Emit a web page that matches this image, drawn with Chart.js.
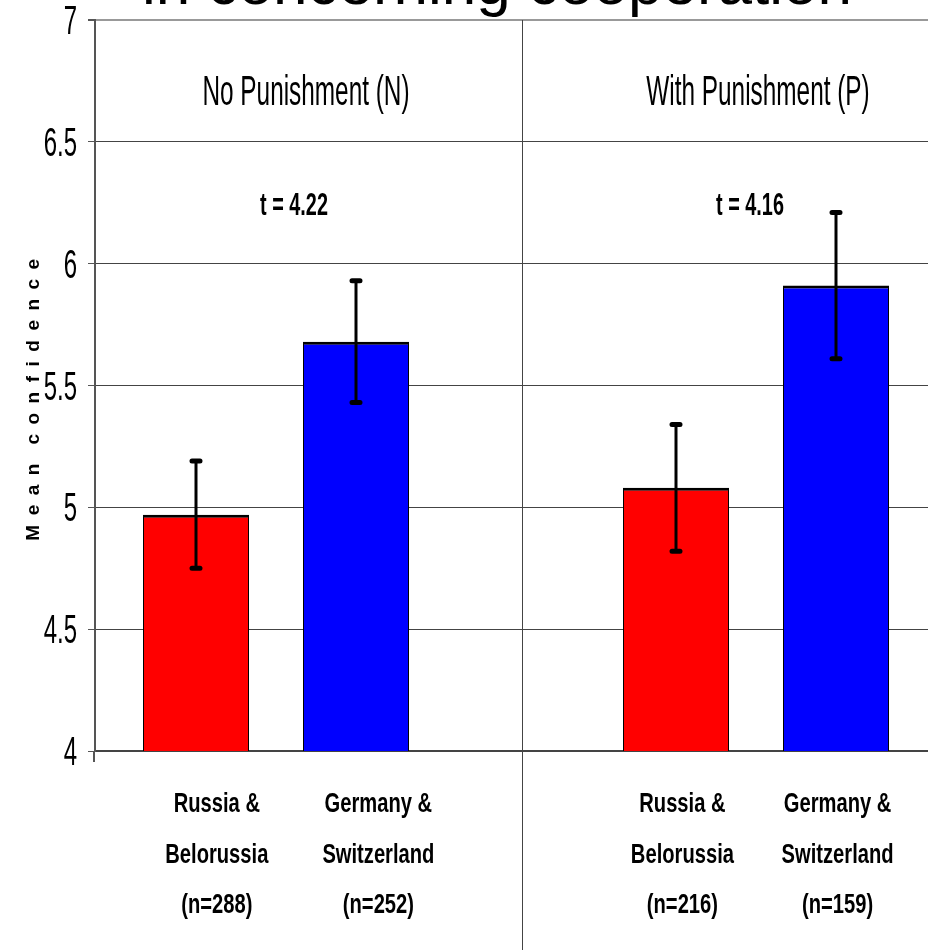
<!DOCTYPE html>
<html>
<head>
<meta charset="utf-8">
<script src="https://cdn.jsdelivr.net/npm/chart.js@4.4.1/dist/chart.umd.min.js"></script>
<style>
  body { margin: 0; background: #fff; overflow: hidden; }
  canvas { display: block; }
</style>
</head>
<body>
<canvas id="chart" width="928" height="950"></canvas>
<script>
// chart values
const groupLabels = [
    ['Russia &', 'Belorussia', '(n=288)'],
    ['Germany &', 'Switzerland', '(n=252)'],
    ['Russia &', 'Belorussia', '(n=216)'],
    ['Germany &', 'Switzerland', '(n=159)']
];
const groupSlots = [1, 2, 4, 5];          // slot 3 is the empty gap between the panels
const meanConfidence = [4.97, 5.68, 5.08, 5.91];
const errorLow = [4.75, 5.43, 4.82, 5.61];
const errorHigh = [5.19, 5.93, 5.34, 6.21];
const panelNames = ['No Punishment (N)', 'With Punishment (P)'];
const tStats = ['t = 4.22', 't = 4.16'];
const yTicks = [4, 4.5, 5, 5.5, 6, 6.5, 7];

const SANS = "'Liberation Sans', Arial, sans-serif";
const barColors = ['#ff0000', '#0000ff', '#ff0000', '#0000ff'];

// narrow text like the original (Arial Narrow look)
function narrowText(ctx, text, x, y, sx) {
    ctx.save();
    ctx.translate(x, y);
    ctx.scale(sx, 1);
    ctx.fillText(text, 0, 0);
    ctx.restore();
}

const extras = {
    id: 'extras',
    afterDatasetsDraw(chart) {
        const ctx = chart.ctx;
        const xs = chart.scales.x;
        const ys = chart.scales.y;
        const area = chart.chartArea;
        ctx.save();
        ctx.fillStyle = '#000';

        // title, mostly above the page edge
        ctx.font = '62px ' + SANS;
        ctx.textAlign = 'left';
        ctx.textBaseline = 'alphabetic';
        ctx.fillText('in concerning cooperation', 142, 4);

        // divider between the two panels, and the little stub under the y axis
        const dx = Math.round(xs.getPixelForValue(3.04)) + 0.5;
        ctx.strokeStyle = '#444';
        ctx.lineWidth = 1;
        ctx.beginPath();
        ctx.moveTo(dx, area.top);
        ctx.lineTo(dx, chart.height);
        ctx.stroke();
        ctx.strokeStyle = '#555';
        ctx.lineWidth = 2;
        ctx.beginPath();
        ctx.moveTo(area.left - 1, area.bottom);
        ctx.lineTo(area.left - 1, area.bottom + 11);
        ctx.stroke();

        // y tick labels
        ctx.font = '40px ' + SANS;
        ctx.textAlign = 'right';
        ys.ticks.forEach(function (t) {
            narrowText(ctx, String(t.value), 77, ys.getPixelForValue(t.value) + 14, 0.6);
        });

        // x tick labels, three lines each (text boxes sit a bit right of the bars)
        ctx.font = 'bold 28px ' + SANS;
        ctx.textAlign = 'center';
        const lineOffsets = [61, 112, 162];
        const labelShift = [0.13, 0.14, 0.04, 0.01];
        groupSlots.forEach(function (slot, i) {
            const x = xs.getPixelForValue(slot + labelShift[i]);
            groupLabels[i].forEach(function (line, j) {
                narrowText(ctx, line, x, area.bottom + lineOffsets[j], 0.72);
            });
        });

        // panel names
        ctx.font = '42px ' + SANS;
        const nameX = [1.6875, 4.5125];
        panelNames.forEach(function (name, i) {
            narrowText(ctx, name, xs.getPixelForValue(nameX[i]), ys.getPixelForValue(6.651), 0.58);
        });

        // t statistics
        ctx.font = 'bold 31px ' + SANS;
        const tX = [1.6125, 4.4625];
        tStats.forEach(function (t, i) {
            narrowText(ctx, t, xs.getPixelForValue(tX[i]), ys.getPixelForValue(6.2), 0.64);
        });

        // error bars
        ctx.strokeStyle = '#000';
        groupSlots.forEach(function (slot, i) {
            const x = xs.getPixelForValue(slot);
            const yHi = ys.getPixelForValue(errorHigh[i]);
            const yLo = ys.getPixelForValue(errorLow[i]);
            ctx.lineWidth = 3;
            ctx.lineCap = 'butt';
            ctx.beginPath();
            ctx.moveTo(x, yHi);
            ctx.lineTo(x, yLo);
            ctx.stroke();
            ctx.lineWidth = 5;
            ctx.lineCap = 'round';
            ctx.beginPath();
            ctx.moveTo(x - 4, yHi);
            ctx.lineTo(x + 4, yHi);
            ctx.moveTo(x - 4, yLo);
            ctx.lineTo(x + 4, yLo);
            ctx.stroke();
        });
        ctx.restore();
    }
};

const ctx = document.getElementById('chart');
new Chart(ctx, {
    type: 'bar',
    data: {
        datasets: [{
            data: groupSlots.map(function (slot, i) {
                return { x: slot, y: meanConfidence[i] };
            }),
            backgroundColor: barColors,
            borderColor: '#000',
            borderWidth: { top: 3, left: 1, right: 1, bottom: 0 },
            borderSkipped: false,
            barPercentage: 0.6625,
            categoryPercentage: 1
        }]
    },
    options: {
        responsive: false,
        animation: false,
        layout: { padding: { top: 20, right: 0, bottom: 0, left: 0 } },
        plugins: {
            legend: { display: false },
            tooltip: { enabled: false },
            title: { display: false }
        },
        scales: {
            x: {
                type: 'linear',
                offset: false,
                min: 0.36875,
                max: 5.575,
                afterBuildTicks: function (scale) {
                    scale.ticks = groupSlots.map(function (v) { return { value: v }; });
                },
                afterFit: function (scale) { scale.height = 199; },
                ticks: { display: false },
                grid: { display: false, drawTicks: false },
                border: { display: true, color: '#444', width: 2 }
            },
            y: {
                min: 4,
                max: 7,
                afterBuildTicks: function (scale) {
                    scale.ticks = yTicks.map(function (v) { return { value: v }; });
                },
                afterFit: function (scale) { scale.width = 95; },
                ticks: { display: false },
                grid: {
                    color: function (c) { return c.tick && c.tick.value === 7 ? '#999' : '#444'; },
                    lineWidth: function (c) { return c.tick && c.tick.value === 7 ? 2 : 1; },
                    tickColor: '#555',
                    tickLength: 7
                },
                border: { display: true, color: '#555', width: 2 },
                title: {
                    display: true,
                    // trailing spaces push the spaced-out word down toward the axis middle
                    text: 'M\u2002e\u2002a\u2002n\u2002\u2002c\u2002o\u2002n\u2002f\u2002i\u2002d\u2002e\u2002n\u2002c\u2002e\u2002\u2002\u2002',
                    color: '#000',
                    font: { family: SANS, size: 19, weight: 'bold' },
                    padding: { top: 22, bottom: 0 }
                }
            }
        }
    },
    plugins: [extras]
});
</script>
</body>
</html>
